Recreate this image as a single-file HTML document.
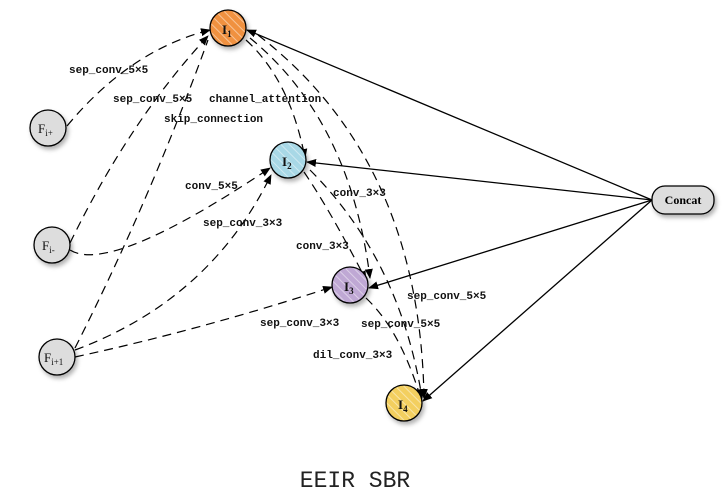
<!DOCTYPE html>
<html><head><meta charset="utf-8"><style>
body{margin:0;background:#fff;}
svg{display:block;}
.l{font-family:"Liberation Mono",monospace;font-size:11px;font-weight:bold;fill:#111;}
.n{font-family:"Liberation Serif",serif;font-weight:bold;font-size:13px;fill:#111;}
</style></head><body>
<svg width="727" height="497" viewBox="0 0 727 497" xmlns="http://www.w3.org/2000/svg">
<defs>
<marker id="a" markerWidth="10" markerHeight="10" refX="9" refY="5" orient="auto" markerUnits="userSpaceOnUse"><path d="M0,1 L10,5 L0,9 z" fill="#000"/></marker>
<pattern id="h" width="6" height="6" patternUnits="userSpaceOnUse" patternTransform="rotate(-45)"><line x1="0" y1="0" x2="0" y2="6" stroke="#fff" stroke-opacity="0.45" stroke-width="2"/></pattern>
<filter id="s" x="-50%" y="-50%" width="200%" height="200%"><feDropShadow dx="2" dy="3" stdDeviation="2" flood-opacity="0.3"/></filter>
</defs>
<g fill="none" stroke="#000" stroke-width="1.2" stroke-dasharray="9,6">
<path d="M67,126 Q130,50 210,30" marker-end="url(#a)"/>
<path d="M70,243 Q130,120 208,36" marker-end="url(#a)"/>
<path d="M75,348 Q150,200 208,40"/>
<path d="M70,250 Q110,275 270,168" marker-end="url(#a)"/>
<path d="M75,350 Q210,300 271,175" marker-end="url(#a)"/>
<path d="M75,357 Q200,330 332,287" marker-end="url(#a)"/>
<path d="M246,40 Q290,80 305,158" marker-end="url(#a)"/>
<path d="M250,38 Q350,120 370,278" marker-end="url(#a)"/>
<path d="M258,35 Q420,160 424,398" marker-end="url(#a)"/>
<path d="M304,172 Q330,210 366,280" marker-end="url(#a)"/>
<path d="M310,170 Q400,260 422,398" marker-end="url(#a)"/>
<path d="M366,298 Q400,330 420,396"/>
</g>
<g fill="none" stroke="#000" stroke-width="1.3">
<line x1="652" y1="200" x2="247" y2="30" marker-end="url(#a)"/>
<line x1="652" y1="200" x2="307" y2="162" marker-end="url(#a)"/>
<line x1="652" y1="200" x2="369" y2="288" marker-end="url(#a)"/>
<line x1="652" y1="200" x2="423" y2="401" marker-end="url(#a)"/>
</g>
<g stroke="#000" stroke-width="1.3" filter="url(#s)">
<circle cx="228" cy="28" r="18" fill="#f0913f"/>
<circle cx="288" cy="160" r="18" fill="#a8d8e6"/>
<circle cx="350" cy="285" r="18" fill="#bfa8d4"/>
<circle cx="404" cy="403" r="18" fill="#f3cf5e"/>
<circle cx="48" cy="128" r="18" fill="#ddd"/>
<circle cx="52" cy="245" r="18" fill="#ddd"/>
<circle cx="57" cy="357" r="18" fill="#ddd"/>
<rect x="652" y="186" width="62" height="28" rx="13" fill="#ddd"/>
</g>
<g stroke="none">
<circle cx="228" cy="28" r="17" fill="url(#h)"/>
<circle cx="288" cy="160" r="17" fill="url(#h)"/>
<circle cx="350" cy="285" r="17" fill="url(#h)"/>
<circle cx="404" cy="403" r="17" fill="url(#h)"/>
</g>
<text class="n" x="222" y="34">I<tspan font-size="9" dy="3">1</tspan></text>
<text class="n" x="282" y="166">I<tspan font-size="9" dy="3">2</tspan></text>
<text class="n" x="344" y="291">I<tspan font-size="9" dy="3">3</tspan></text>
<text class="n" x="398" y="409">I<tspan font-size="9" dy="3">4</tspan></text>
<g font-family="Liberation Serif,serif" font-size="13" fill="#111">
<text x="38" y="133">F<tspan font-size="9" dy="3">i+</tspan></text>
<text x="42" y="250">F<tspan font-size="9" dy="3">i-</tspan></text>
<text x="44" y="362">F<tspan font-size="9" dy="3">i+1</tspan></text>
</g>
<text x="683" y="204" text-anchor="middle" font-family="Liberation Serif,serif" font-weight="bold" font-size="12">Concat</text>
<g class="l">
<text x="69" y="73">sep_conv_5×5</text>
<text x="113" y="102">sep_conv_5×5</text>
<text x="209" y="102">channel_attention</text>
<text x="164" y="122">skip_connection</text>
<text x="185" y="189">conv_5×5</text>
<text x="203" y="226">sep_conv_3×3</text>
<text x="333" y="196">conv_3×3</text>
<text x="296" y="249">conv_3×3</text>
<text x="407" y="299">sep_conv_5×5</text>
<text x="260" y="326">sep_conv_3×3</text>
<text x="361" y="327">sep_conv_5×5</text>
<text x="313" y="358">dil_conv_3×3</text>
</g>
<text x="355" y="487" text-anchor="middle" font-family="Liberation Mono,monospace" font-size="23" fill="#222">EEIR SBR</text>
</svg>
</body></html>
